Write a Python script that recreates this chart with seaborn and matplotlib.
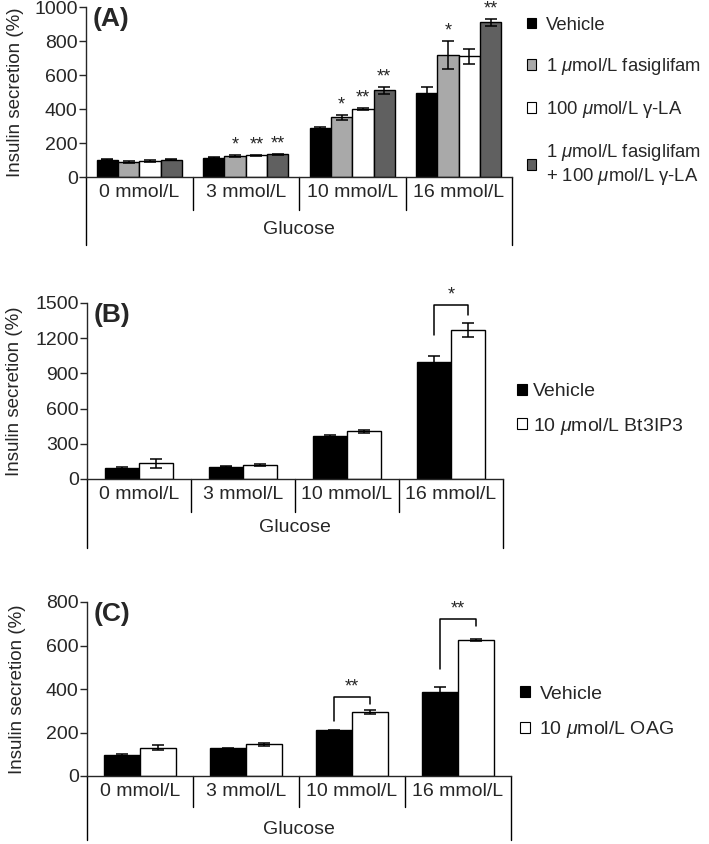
import numpy as np
import pandas as pd
import seaborn as sns
import matplotlib.pyplot as plt
from matplotlib.patches import Patch

# data
glucose = ["0 mmol/L", "3 mmol/L", "10 mmol/L", "16 mmol/L"]

# panel A
a_names = ["Vehicle", "1 $\\mu$mol/L fasiglifam", "100 $\\mu$mol/L γ-LA",
           "1 $\\mu$mol/L fasiglifam\n+ 100 $\\mu$mol/L γ-LA"]
a_vehicle = [102, 112, 288, 494]
a_vehicle_err = [4, 3, 6, 38]
a_fasi = [88, 123, 352, 716]
a_fasi_err = [5, 5, 14, 82]
a_gla = [94, 127, 400, 710]
a_gla_err = [8, 4, 5, 45]
a_combo = [102, 133, 510, 910]
a_combo_err = [3, 3, 20, 22]
a_stars = [["", "", "", ""], ["", "*", "*", "*"], ["", "**", "**", ""], ["", "**", "**", "**"]]

# panel B
b_names = ["Vehicle", "10 $\\mu$mol/L Bt3IP3"]
b_vehicle = [94, 106, 370, 1000]
b_vehicle_err = [8, 4, 8, 48]
b_bt3 = [134, 116, 405, 1270]
b_bt3_err = [36, 8, 10, 60]
b_brackets = {3: ([1230, 1486, 1400], "*")}

# panel C
c_names = ["Vehicle", "10 $\\mu$mol/L OAG"]
c_vehicle = [98, 127, 210, 385]
c_vehicle_err = [5, 4, 3, 22]
c_oag = [131, 147, 295, 625]
c_oag_err = [10, 7, 10, 3]
c_brackets = {2: ([251, 363, 333], "**"), 3: ([493, 724, 688], "**")}

sns.set_style("ticks")
plt.rcParams["font.family"] = ["Liberation Sans", "DejaVu Sans"]
plt.rcParams["mathtext.fontset"] = "custom"
plt.rcParams["mathtext.rm"] = "Liberation Sans"
plt.rcParams["mathtext.it"] = "Liberation Sans:italic"
plt.rcParams["axes.linewidth"] = 1.0

W, H = 709, 844
fig = plt.figure(figsize=(W / 100, H / 100), dpi=100)


def make_axes(left, right, top, bottom):
    return fig.add_axes([left / W, 1 - bottom / H, (right - left) / W, (bottom - top) / H])


def panel(ax, names, means, errs, colors, width, stars=None):
    df = pd.DataFrame({
        "glucose": np.tile(glucose, len(names)),
        "group": np.repeat(names, len(glucose)),
        "value": np.concatenate(means),
    })
    sns.barplot(data=df, x="glucose", y="value", hue="group", hue_order=names,
                palette=colors, width=width, edgecolor="black", linewidth=1,
                errorbar=None, legend=False, saturation=1, ax=ax)
    centers = []
    for i, (cont, err) in enumerate(zip(ax.containers, errs)):
        xs = [b.get_x() + b.get_width() / 2 for b in cont]
        hs = [b.get_height() for b in cont]
        ax.errorbar(xs, hs, yerr=err, fmt="none", ecolor="black", elinewidth=1.1,
                    capsize=4.5, capthick=1.1, zorder=3)
        centers.append(xs)
        if stars:
            for x, h, e, m in zip(xs, hs, err, stars[i]):
                if m:
                    ax.annotate(m, (x, h + e), xytext=(0, 1), textcoords="offset points",
                                ha="center", va="bottom", fontsize=13)
    return centers


def brackets(ax, centers, br):
    for idx, (ys, mark) in br.items():
        xl, xr = centers[0][idx], centers[1][idx]
        ax.plot([xl, xl, xr, xr], [ys[0], ys[1], ys[1], ys[2]], color="black", lw=1.1,
                clip_on=False)
        ax.annotate(mark, ((xl + xr) / 2, ys[1]), xytext=(0, 1), textcoords="offset points",
                    ha="center", va="bottom", fontsize=13, annotation_clip=False)


def finish(ax, ymax, ystep, letter, short, long, glu, ylab_x):
    hpx = ax.get_position().height * H
    wpx = ax.get_position().width * W
    ax.set_ylim(0, ymax)
    ax.set_xlim(-0.5, 3.5)
    ax.set_yticks(np.arange(0, ymax + 1, ystep))
    ax.tick_params(axis="y", labelsize=14, length=5, width=1, pad=1)
    ax.tick_params(axis="x", labelsize=14, length=0, pad=5)
    ax.set_xlabel("")
    ax.set_ylabel("Insulin secretion (%)", fontsize=13.5)
    ax.yaxis.set_label_coords(ylab_x / wpx, 0.5)
    sns.despine(ax=ax)
    for i in range(5):
        depth = long if i in (0, 4) else short
        ax.plot([i / 4, i / 4], [0, -depth / hpx], color="black", lw=1,
                transform=ax.transAxes, clip_on=False)
    ax.text(0.5, -glu / hpx, "Glucose", transform=ax.transAxes, ha="center",
            va="center", fontsize=14)
    ax.text(0.015, 1.0, letter, transform=ax.transAxes, ha="left", va="top",
            fontsize=19, fontweight="bold")


def legend(names, colors, x, y, pad, spacing, size):
    handles = [Patch(facecolor=c, edgecolor="black", linewidth=0.8) for c in colors]
    fig.legend(handles, names, loc="center left", bbox_to_anchor=(x / W, 1 - y / H),
               frameon=False, fontsize=size, handlelength=0.5, handleheight=0.5,
               handletextpad=pad, labelspacing=spacing, borderpad=0, borderaxespad=0)


# (A)
a_colors = ["black", "#a9a9a9", "white", "#606060"]
axA = make_axes(86, 512, 7, 177)
cA = panel(axA, a_names, [a_vehicle, a_fasi, a_gla, a_combo],
           [a_vehicle_err, a_fasi_err, a_gla_err, a_combo_err], a_colors, 0.8, a_stars)
finish(axA, 1000, 200, "(A)", 33, 68, 53, -62)
legend(a_names, a_colors, 527, 102, 0.55, 1.2, 13.3)

# (B)
bc_colors = ["black", "white"]
axB = make_axes(87, 503, 303, 479)
cB = panel(axB, b_names, [b_vehicle, b_bt3], [b_vehicle_err, b_bt3_err], bc_colors, 0.66)
brackets(axB, cB, b_brackets)
finish(axB, 1500, 300, "(B)", 33, 69, 48, -64)
legend(b_names, bc_colors, 517, 410, 0.3, 0.8, 14)

# (C)
axC = make_axes(87, 511, 602, 776)
cC = panel(axC, c_names, [c_vehicle, c_oag], [c_vehicle_err, c_oag_err], bc_colors, 0.67)
brackets(axC, cC, c_brackets)
finish(axC, 800, 200, "(C)", 31, 64, 54, -61)
legend(c_names, bc_colors, 520, 713, 0.5, 0.85, 14)

plt.savefig("out.png", dpi=100)
